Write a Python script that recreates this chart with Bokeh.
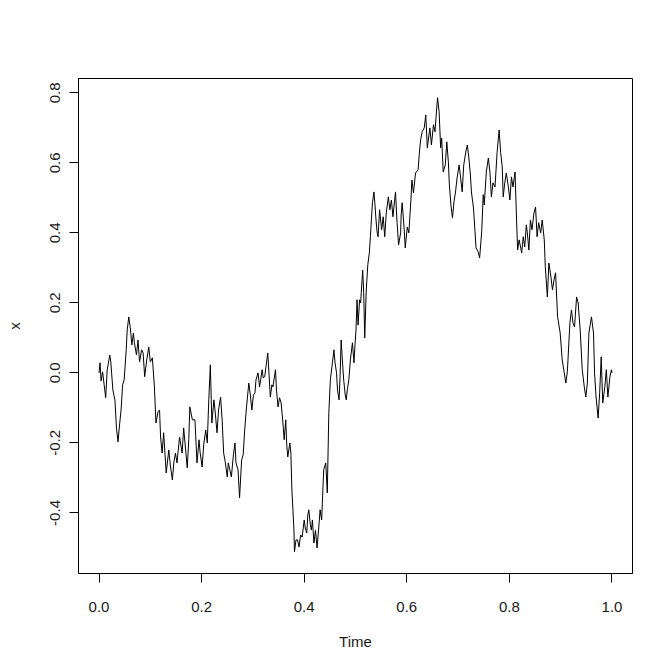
from bokeh.plotting import figure
from bokeh.models import FixedTicker, Range1d
from bokeh.embed import file_html
from bokeh.resources import INLINE

time = [0.000, 0.002, 0.004, 0.007, 0.010, 0.013, 0.016, 0.021, 0.023, 0.027,
        0.031, 0.034, 0.037, 0.040, 0.043, 0.046, 0.049, 0.053, 0.055, 0.058,
        0.061, 0.064, 0.067, 0.069, 0.073, 0.076, 0.079, 0.083, 0.086, 0.089,
        0.093, 0.097, 0.100, 0.104, 0.108, 0.111, 0.115, 0.118, 0.120, 0.123,
        0.126, 0.131, 0.136, 0.139, 0.143, 0.146, 0.149, 0.152, 0.157, 0.162,
        0.165, 0.168, 0.172, 0.175, 0.177, 0.182, 0.187, 0.191, 0.195, 0.197,
        0.201, 0.204, 0.208, 0.211, 0.214, 0.217, 0.220, 0.224, 0.227, 0.230,
        0.233, 0.237, 0.240, 0.243, 0.246, 0.250, 0.252, 0.255, 0.258, 0.262,
        0.265, 0.267, 0.271, 0.274, 0.278, 0.281, 0.284, 0.287, 0.292, 0.295,
        0.298, 0.301, 0.304, 0.306, 0.310, 0.313, 0.318, 0.320, 0.323, 0.326,
        0.329, 0.334, 0.337, 0.339, 0.344, 0.346, 0.349, 0.352, 0.355, 0.358,
        0.361, 0.364, 0.366, 0.368, 0.372, 0.374, 0.376, 0.378, 0.380, 0.381,
        0.384, 0.387, 0.390, 0.393, 0.396, 0.400, 0.402, 0.405, 0.407, 0.409,
        0.412, 0.414, 0.416, 0.419, 0.422, 0.425, 0.428, 0.431, 0.434, 0.436,
        0.438, 0.442, 0.445, 0.448, 0.451, 0.455, 0.458, 0.460, 0.463, 0.465,
        0.468, 0.470, 0.472, 0.475, 0.477, 0.480, 0.482, 0.484, 0.487, 0.490,
        0.494, 0.497, 0.499, 0.501, 0.503, 0.505, 0.508, 0.510, 0.514, 0.516,
        0.518, 0.521, 0.524, 0.527, 0.529, 0.531, 0.533, 0.536, 0.538, 0.540,
        0.542, 0.544, 0.547, 0.551, 0.554, 0.557, 0.560, 0.564, 0.567, 0.570,
        0.573, 0.578, 0.581, 0.584, 0.588, 0.589, 0.591, 0.595, 0.597, 0.601,
        0.604, 0.608, 0.610, 0.613, 0.617, 0.622, 0.625, 0.627, 0.630, 0.634,
        0.637, 0.640, 0.645, 0.648, 0.652, 0.655, 0.658, 0.660, 0.663, 0.666,
        0.668, 0.671, 0.675, 0.678, 0.681, 0.683, 0.686, 0.689, 0.692, 0.695,
        0.698, 0.702, 0.705, 0.708, 0.711, 0.715, 0.718, 0.721, 0.724, 0.726,
        0.730, 0.733, 0.735, 0.739, 0.742, 0.746, 0.749, 0.751, 0.755, 0.759,
        0.762, 0.765, 0.768, 0.772, 0.776, 0.780, 0.783, 0.786, 0.788, 0.791,
        0.794, 0.798, 0.801, 0.804, 0.807, 0.811, 0.814, 0.816, 0.819, 0.824,
        0.827, 0.830, 0.833, 0.835, 0.838, 0.841, 0.844, 0.848, 0.851, 0.854,
        0.857, 0.861, 0.864, 0.868, 0.870, 0.874, 0.877, 0.881, 0.884, 0.887,
        0.890, 0.894, 0.899, 0.903, 0.907, 0.910, 0.913, 0.918, 0.921, 0.924,
        0.927, 0.931, 0.934, 0.938, 0.942, 0.946, 0.949, 0.952, 0.955, 0.960,
        0.964, 0.966, 0.969, 0.973, 0.976, 0.979, 0.982, 0.986, 0.989, 0.992,
        0.996, 0.999, 1.000]

x = [0.000, 0.029, -0.023, 0.003, -0.034, -0.071, 0.009, 0.051, 0.031, -0.049,
     -0.077, -0.157, -0.197, -0.149, -0.106, -0.034, -0.020, 0.066, 0.123, 0.160,
     0.129, 0.080, 0.114, 0.086, 0.051, 0.094, 0.031, 0.066, 0.057, -0.011,
     0.037, 0.074, 0.031, 0.043, -0.040, -0.143, -0.111, -0.106, -0.183, -0.229,
     -0.171, -0.286, -0.220, -0.263, -0.306, -0.254, -0.229, -0.257, -0.183, -0.229,
     -0.157, -0.206, -0.271, -0.191, -0.097, -0.134, -0.134, -0.257, -0.191, -0.226,
     -0.269, -0.206, -0.163, -0.200, -0.077, 0.023, -0.143, -0.077, -0.120, -0.171,
     -0.106, -0.069, -0.134, -0.229, -0.254, -0.297, -0.257, -0.277, -0.297, -0.234,
     -0.200, -0.257, -0.277, -0.357, -0.249, -0.234, -0.163, -0.106, -0.029, -0.063,
     -0.106, -0.063, -0.057, -0.020, 0.000, -0.040, 0.009, -0.014, -0.011, 0.023,
     0.057, -0.069, -0.034, -0.040, 0.009, -0.049, -0.097, -0.071, -0.086, -0.134,
     -0.191, -0.134, -0.206, -0.240, -0.200, -0.229, -0.334, -0.391, -0.449, -0.511,
     -0.477, -0.477, -0.497, -0.463, -0.469, -0.420, -0.443, -0.457, -0.406, -0.391,
     -0.434, -0.449, -0.420, -0.486, -0.449, -0.500, -0.449, -0.391, -0.420, -0.349,
     -0.277, -0.257, -0.343, -0.114, -0.020, 0.029, 0.066, 0.031, 0.000, -0.049,
     -0.077, -0.006, 0.094, 0.023, -0.020, -0.063, -0.077, -0.049, -0.020, 0.037,
     0.086, 0.029, 0.080, 0.123, 0.209, 0.137, 0.209, 0.200, 0.294, 0.229,
     0.100, 0.237, 0.309, 0.343, 0.389, 0.437, 0.486, 0.517, 0.480, 0.437,
     0.403, 0.389, 0.466, 0.409, 0.446, 0.389, 0.457, 0.503, 0.466, 0.494,
     0.446, 0.517, 0.429, 0.366, 0.400, 0.451, 0.486, 0.409, 0.357, 0.417,
     0.400, 0.494, 0.551, 0.514, 0.571, 0.580, 0.637, 0.666, 0.689, 0.700,
     0.737, 0.643, 0.700, 0.651, 0.709, 0.689, 0.751, 0.786, 0.746, 0.643,
     0.671, 0.574, 0.594, 0.660, 0.603, 0.537, 0.480, 0.443, 0.489, 0.517,
     0.557, 0.594, 0.557, 0.517, 0.594, 0.631, 0.651, 0.614, 0.566, 0.517,
     0.471, 0.403, 0.357, 0.346, 0.329, 0.403, 0.509, 0.480, 0.574, 0.614,
     0.574, 0.503, 0.543, 0.531, 0.629, 0.694, 0.629, 0.589, 0.503, 0.543,
     0.571, 0.531, 0.494, 0.560, 0.531, 0.574, 0.437, 0.351, 0.380, 0.343,
     0.389, 0.360, 0.423, 0.400, 0.351, 0.437, 0.409, 0.457, 0.474, 0.389,
     0.429, 0.400, 0.437, 0.380, 0.303, 0.217, 0.314, 0.274, 0.237, 0.266,
     0.286, 0.160, 0.114, 0.037, 0.000, -0.029, 0.003, 0.143, 0.180, 0.143,
     0.131, 0.217, 0.200, 0.123, 0.009, -0.040, -0.069, -0.029, 0.114, 0.160,
     0.114, 0.000, -0.069, -0.129, -0.057, 0.046, -0.086, -0.040, 0.009, -0.069,
     -0.011, 0.009, 0.000]

x_ticks = [0.0, 0.2, 0.4, 0.6, 0.8, 1.0]
x_tick_labels = ["0.0", "0.2", "0.4", "0.6", "0.8", "1.0"]
y_ticks = [-0.4, -0.2, 0.0, 0.2, 0.4, 0.6, 0.8]
y_tick_labels = ["-0.4", "-0.2", "0.0", "0.2", "0.4", "0.6", "0.8"]

FONT = "Liberation Sans"
TXT = "#1a1a1a"

p = figure(width=664, height=659, output_backend="svg", toolbar_location=None,
           x_range=Range1d(-0.04, 1.04), y_range=Range1d(-0.573, 0.841),
           min_border_left=78, min_border_right=32, min_border_top=78,
           min_border_bottom=86)

p.line(time, x, line_color="black", line_width=1)

p.xgrid.visible = False
p.ygrid.visible = False
p.outline_line_color = "black"
p.outline_line_width = 1
p.background_fill_color = "white"
p.border_fill_color = "white"

for ax, ticks, labels in ((p.xaxis[0], x_ticks, x_tick_labels),
                          (p.yaxis[0], y_ticks, y_tick_labels)):
    ax.ticker = FixedTicker(ticks=ticks)
    ax.major_label_overrides = {t: l for t, l in zip(ticks, labels)}
    ax.minor_tick_line_color = None
    ax.major_tick_in = 0
    ax.major_tick_out = 9
    ax.major_tick_line_color = "black"
    ax.axis_line_color = "black"
    ax.major_label_text_font = FONT
    ax.major_label_text_font_size = "15px"
    ax.major_label_text_color = TXT
    ax.axis_label_text_font = FONT
    ax.axis_label_text_font_size = "15px"
    ax.axis_label_text_font_style = "normal"
    ax.axis_label_text_color = TXT

p.xaxis.axis_label = "Time"
p.yaxis.axis_label = "x"
p.xaxis.major_label_standoff = 19
p.xaxis.axis_label_standoff = 18
p.yaxis.major_label_orientation = "vertical"
p.yaxis.major_label_standoff = 9
p.yaxis.axis_label_standoff = 25

open("out.html", "w").write(file_html(p, INLINE))
